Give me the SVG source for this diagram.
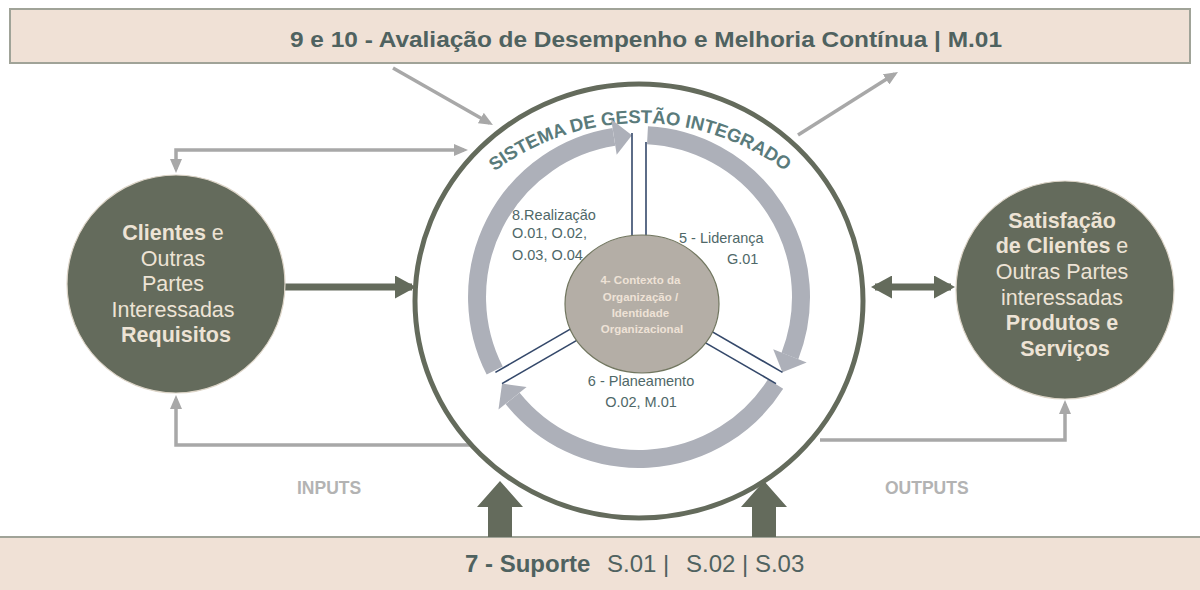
<svg xmlns="http://www.w3.org/2000/svg" width="1200" height="590" viewBox="0 0 1200 590">
<style>
.banner{fill:#f0e1d6;stroke:#a0a398;stroke-width:2}
.btxt{font-family:"Liberation Sans",Arial,sans-serif;fill:#4f6260}
.node{fill:#646b5c;stroke:#ddd5c8;stroke-width:1.2}
.ntxt{font-family:"Liberation Sans",Arial,sans-serif;font-size:21.5px;fill:#ede3d5;text-anchor:middle}
.b{font-weight:bold}
.gline{fill:none;stroke:#a8a8a8;stroke-width:3.5}
.dline{fill:none;stroke:#646b5c;stroke-width:7}
.thick{fill:#646b5c}
.ring{fill:none;stroke:#adb0b9;stroke-width:18}
.head{fill:#adb0b9}
.spoke{stroke:#34486a;stroke-width:1.6;fill:none}
.lbl{font-family:"Liberation Sans",Arial,sans-serif;font-size:14.5px;fill:#4f6868}
.io{font-family:"Liberation Sans",Arial,sans-serif;font-size:17.5px;font-weight:bold;fill:#b3b3b3}
</style>
<defs>
<marker id="ga" viewBox="0 0 14 12" refX="10" refY="6" markerWidth="14" markerHeight="12" markerUnits="userSpaceOnUse" orient="auto-start-reverse">
<path d="M0,0 L14,6 L0,12 z" fill="#a8a8a8"/>
</marker>
<marker id="da" viewBox="0 0 21 23" refX="17" refY="11.5" markerWidth="21" markerHeight="23" markerUnits="userSpaceOnUse" orient="auto-start-reverse">
<path d="M0,0 L21,11.5 L0,23 z" fill="#646b5c"/>
</marker>
<path id="arcText" d="M397,366 A243,243 0 0 1 883,366"/>
</defs>
<rect x="0" y="0" width="1200" height="590" fill="#ffffff"/>

<g id="top-banner">
<rect class="banner" x="10" y="9" width="1180" height="54"/>
<text class="btxt b" x="290" y="47" font-size="22" textLength="712" lengthAdjust="spacingAndGlyphs">9 e 10 - Avaliação de Desempenho e Melhoria Contínua | M.01</text>
</g>

<g id="bottom-banner">
<rect class="banner" x="-2" y="537" width="1204" height="60"/>
<text class="btxt" x="465" y="572" font-size="24"><tspan class="b">7 - Suporte</tspan><tspan x="607">S.01 |</tspan><tspan x="686">S.02 | S.03</tspan></text>
</g>

<g id="connectors">
<path class="gline" d="M393,68 L489.5,123" marker-end="url(#ga)"/>
<path class="gline" d="M798,135 L894.6,74.1" marker-end="url(#ga)"/>
<path class="gline" d="M176,169 V150 H464" marker-start="url(#ga)" marker-end="url(#ga)"/>
<path class="gline" d="M472,445 H176 V399" marker-end="url(#ga)"/>
<path class="gline" d="M820,440 H1065 V404" marker-end="url(#ga)"/>
<path class="dline" d="M285,287 H412" marker-end="url(#da)"/>
<path class="dline" d="M875,287 H951" marker-start="url(#da)" marker-end="url(#da)"/>
<path class="thick" d="M488,537 V507 H477 L500,481 L523,507 H512 V537 z"/>
<path class="thick" d="M752,537 V507 H741 L764,481 L787,507 H776 V537 z"/>
</g>

<g id="sistema">
<ellipse cx="639" cy="301" rx="224" ry="217" fill="#ffffff" stroke="#646b5c" stroke-width="5"/>
<text font-family="'Liberation Sans',Arial,sans-serif" font-size="18.5" font-weight="bold" fill="#5a7b7b"><textPath href="#arcText" startOffset="50%" text-anchor="middle">SISTEMA DE GESTÃO INTEGRADO</textPath></text>
</g>

<g id="cycle">
<path class="ring" d="M494.7,370.5 A162,162 0 0 1 613.9,136.9"/>
<path class="head" d="M616.7,154.7 L611.2,119.2 L631.9,135.2 z"/>
<path class="ring" d="M647.5,135.2 A162,162 0 0 1 789.9,355.9"/>
<path class="head" d="M773.2,349.3 L806.7,362.4 L782.4,372.3 z"/>
<path class="ring" d="M775.6,384 A162,162 0 0 1 512.6,398.3"/>
<path class="head" d="M526.6,387 L498.5,409.5 L502.1,383.6 z"/>
<line class="spoke" x1="632" y1="133" x2="632" y2="290"/>
<line class="spoke" x1="646" y1="142" x2="646" y2="290"/>
<line class="spoke" x1="495.4" y1="372.4" x2="583.7" y2="321.4"/>
<line class="spoke" x1="502" y1="383.6" x2="590.2" y2="332.6"/>
<line class="spoke" x1="782.5" y1="372.4" x2="694.3" y2="321.4"/>
<line class="spoke" x1="776" y1="383.6" x2="687.8" y2="332.6"/>
</g>

<g id="realizacao">
<text class="lbl" x="512" y="220">8.Realização</text>
<text class="lbl" x="512" y="238">O.01, O.02,</text>
<text class="lbl" x="512" y="260">O.03, O.04</text>
</g>
<g id="lideranca">
<text class="lbl" x="679" y="243">5 - Liderança</text>
<text class="lbl" x="727" y="264">G.01</text>
</g>
<g id="planeamento">
<text class="lbl" x="641" y="386" text-anchor="middle">6 - Planeamento</text>
<text class="lbl" x="641" y="407" text-anchor="middle">O.02, M.01</text>
</g>

<g id="contexto">
<ellipse cx="642" cy="304" rx="77" ry="69" fill="#b4aea6" stroke="#71765f" stroke-width="1.2"/>
<text font-family="'Liberation Sans',Arial,sans-serif" font-size="11.5" font-weight="bold" fill="#eee2d6" text-anchor="middle">
<tspan x="642" y="284">4- Contexto da</tspan>
<tspan x="642" y="301">Organização /</tspan>
<tspan x="642" y="317">Identidade</tspan>
<tspan x="642" y="333">Organizacional</tspan>
</text>
</g>

<g id="clientes">
<circle class="node" cx="176" cy="284" r="109"/>
<text class="ntxt">
<tspan x="176" y="240"><tspan class="b">Clientes</tspan> e</tspan>
<tspan x="176" y="265.5">Outras</tspan>
<tspan x="176" y="291">Partes</tspan>
<tspan x="176" y="316.5">Interessadas</tspan>
<tspan x="176" y="342" class="b">Requisitos</tspan>
</text>
</g>

<g id="satisfacao">
<circle class="node" cx="1065" cy="290" r="109"/>
<text class="ntxt">
<tspan x="1065" y="228" class="b">Satisfação</tspan>
<tspan x="1065" y="253"><tspan class="b">de Clientes</tspan> e</tspan>
<tspan x="1065" y="279">Outras Partes</tspan>
<tspan x="1065" y="305">interessadas</tspan>
<tspan x="1065" y="330" class="b">Produtos e</tspan>
<tspan x="1065" y="356" class="b">Serviços</tspan>
</text>
</g>

<g id="inputs"><text class="io" x="297" y="494">INPUTS</text></g>
<g id="outputs"><text class="io" x="885" y="494">OUTPUTS</text></g>
</svg>
